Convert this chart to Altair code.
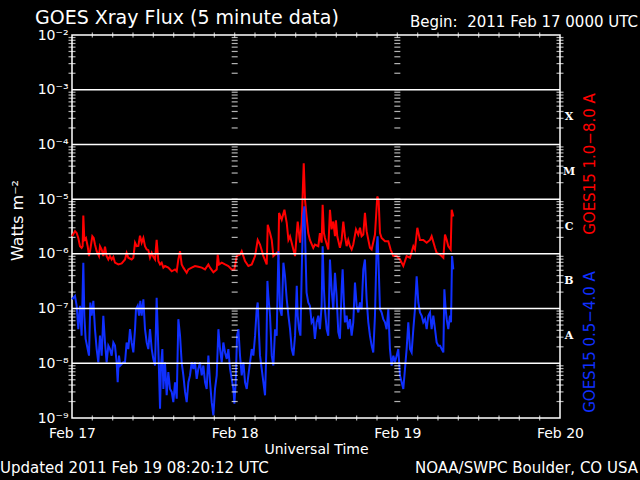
import altair as alt
import pandas as pd

# ---- data: hours since 2011 Feb 17 00:00 UTC, flux in W m^-2 ----
RED_HOURS = [0.0, 0.44, 0.69, 0.93, 1.18, 1.42, 1.57, 1.67, 1.82, 2.06, 2.31, 2.51, 2.70, 3.0, 3.2, 3.39, 3.64, 3.98, 4.13, 4.38,
             4.62, 4.87, 5.11, 5.36, 5.6, 5.85, 6.1, 6.34, 6.84, 7.33, 7.82, 8.06, 8.31, 8.8, 9.05, 9.3, 9.54, 9.79, 10.03, 10.28,
             10.53, 10.77, 11.02, 11.26, 11.51, 11.76, 12.0, 12.25, 12.49, 12.74, 12.99, 13.23, 13.48, 13.72, 14.21, 14.71, 15.2, 15.45, 15.69, 15.94,
             16.18, 16.43, 16.92, 17.17, 17.66, 18.15, 18.64, 19.14, 19.63, 20.12, 20.37, 20.86, 21.35, 21.5, 21.69, 22.09, 22.58, 23.07, 23.56, 23.96,
             24.3, 24.8, 25.04, 25.53, 26.02, 26.52, 27.01, 27.4, 27.74, 28.24, 28.73, 28.88, 29.22, 29.47, 29.71, 30.2, 30.45, 30.55, 30.94, 31.34,
             31.68, 31.93, 32.17, 32.66, 32.91, 33.16, 33.3, 33.65, 33.9, 34.09, 34.19, 34.38, 34.61, 34.86, 35.1, 35.6, 35.84, 36.34, 36.58, 36.83,
             36.98, 37.17, 37.32, 37.81, 38.06, 38.3, 38.55, 38.8, 38.94, 39.14, 39.53, 39.78, 40.03, 40.27, 40.52, 40.76, 41.01, 41.26, 41.5, 41.9,
             42.24, 42.49, 42.73, 42.98, 43.22, 43.47, 43.72, 43.96, 44.21, 44.7, 45.04, 45.24, 45.44, 45.68, 46.18, 46.67, 47.01, 47.41, 47.9, 48.39,
             48.64, 48.88, 49.37, 49.87, 50.36, 50.6, 50.95, 51.34, 51.83, 52.33, 52.82, 53.06, 53.56, 53.8, 54.3, 54.79, 55.03, 55.28, 55.52, 55.87,
             56.02, 56.26]
RED_FLUX = [2.1e-6, 2.6e-6, 2.4e-6, 1.95e-6, 1.38e-6, 1.29e-6, 1.38e-6, 5.0e-6, 1.8e-6, 1.95e-6, 1.38e-6, 9.1e-7, 1.2e-6, 2.1e-6, 1.95e-6, 1.48e-6, 1.12e-6, 9.1e-7, 1.38e-6, 1.2e-6,
            9.1e-7, 1.35e-6, 9.1e-7, 7.9e-7, 9.1e-7, 7.9e-7, 8.8e-7, 6.9e-7, 6.4e-7, 6.7e-7, 7.9e-7, 1.04e-6, 8.5e-7, 7.9e-7, 8.5e-7, 1.6e-6, 1.38e-6, 1.4e-6, 2.15e-6, 1.6e-6,
            1.95e-6, 1.38e-6, 1.2e-6, 1.17e-6, 8.5e-7, 1.04e-6, 8.8e-7, 7.9e-7, 1.8e-6, 7.4e-7, 6.4e-7, 6.9e-7, 5.6e-7, 6.0e-7, 5.6e-7, 4.8e-7, 5.2e-7, 4.8e-7, 7.9e-7, 1.12e-6,
            6.4e-7, 5.6e-7, 4.5e-7, 5.2e-7, 5.6e-7, 6.0e-7, 5.8e-7, 5.6e-7, 5.2e-7, 6.4e-7, 5.6e-7, 4.6e-7, 5.2e-7, 9.7e-7, 6.4e-7, 6.9e-7, 6.4e-7, 6.0e-7, 5.2e-7, 5.2e-7,
            9.1e-7, 9.7e-7, 1.12e-6, 7.4e-7, 6.0e-7, 6.4e-7, 9.1e-7, 1.8e-6, 1.48e-6, 9.1e-7, 6.4e-7, 3.4e-6, 2.4e-6, 1.8e-6, 9.1e-7, 1.04e-6, 9.1e-7, 5.6e-6, 4.2e-6, 6.4e-6,
            3.7e-6, 1.8e-6, 2.1e-6, 1.2e-6, 9.1e-7, 2.4e-6, 3.9e-6, 1.6e-6, 3.9e-6, 1.95e-5, 4.5e-5, 9.7e-6, 4.8e-6, 2.4e-6, 1.8e-6, 1.29e-6, 1.48e-6, 1.38e-6, 2.4e-6, 1.6e-6,
            7.9e-6, 2.4e-6, 1.95e-6, 1.2e-6, 6.4e-6, 2.8e-6, 3.9e-6, 2.1e-6, 4.1e-6, 2.1e-6, 1.29e-6, 1.8e-6, 3.9e-6, 2.1e-6, 1.38e-6, 1.8e-6, 1.38e-6, 1.2e-6, 1.48e-6, 2.8e-6,
            2.25e-6, 3.0e-6, 2.1e-6, 2.25e-6, 5.6e-6, 2.6e-6, 1.8e-6, 1.29e-6, 1.2e-6, 2.25e-6, 1.12e-5, 9.7e-6, 2.4e-6, 1.95e-6, 1.7e-6, 1.7e-6, 1.2e-6, 9.1e-7, 9.1e-7, 7.9e-7,
            6.9e-7, 6.0e-7, 9.1e-7, 8.5e-7, 1.38e-6, 1.2e-6, 3.0e-6, 1.8e-6, 1.8e-6, 1.6e-6, 1.8e-6, 2.1e-6, 1.29e-6, 1.04e-6, 9.7e-7, 8.5e-7, 2.25e-6, 1.8e-6, 1.38e-6, 1.2e-6,
            6.4e-6, 4.8e-6]

BLUE_HOURS = [0.0, 0.44, 0.69, 0.93, 1.18, 1.42, 1.67, 1.82, 2.01, 2.31, 2.51, 2.7, 2.9, 3.15, 3.39, 3.64, 3.88, 4.13, 4.38, 4.62,
              4.87, 5.11, 5.36, 5.6, 5.85, 6.1, 6.34, 6.59, 6.74, 6.93, 7.13, 7.57, 7.82, 8.06, 8.31, 8.56, 8.8, 9.05, 9.3, 9.44,
              9.69, 9.89, 10.08, 10.28, 10.53, 10.77, 11.02, 11.26, 11.51, 11.76, 12.0, 12.25, 12.49, 12.74, 12.99, 13.13, 13.33, 13.48, 13.72, 13.97,
              14.21, 14.46, 14.71, 14.95, 15.2, 15.45, 15.69, 15.94, 16.18, 16.43, 16.68, 16.92, 17.17, 17.41, 17.66, 17.91, 18.15, 18.4, 18.64, 18.89,
              19.14, 19.38, 19.63, 19.87, 20.12, 20.37, 20.61, 20.86, 21.1, 21.35, 21.6, 21.84, 22.09, 22.33, 22.58, 22.83, 23.07, 23.32, 23.56, 23.81,
              23.96, 24.15, 24.35, 24.55, 24.79, 25.04, 25.29, 25.53, 25.78, 26.02, 26.27, 26.52, 26.76, 27.01, 27.25, 27.4, 27.6, 27.74, 27.99, 28.24,
              28.48, 28.68, 28.83, 28.97, 29.22, 29.47, 29.71, 29.96, 30.2, 30.45, 30.7, 30.94, 31.19, 31.43, 31.68, 31.93, 32.17, 32.42, 32.66, 32.91,
              33.16, 33.3, 33.5, 33.7, 33.9, 34.09, 34.28, 34.48, 34.61, 34.86, 35.1, 35.35, 35.6, 35.84, 36.09, 36.34, 36.58, 36.83, 36.98, 37.17,
              37.32, 37.57, 37.81, 38.06, 38.3, 38.55, 38.8, 39.04, 39.29, 39.53, 39.78, 39.93, 40.12, 40.27, 40.52, 40.76, 41.01, 41.26, 41.5, 41.75,
              42.0, 42.24, 42.49, 42.73, 42.98, 43.22, 43.47, 43.72, 43.96, 44.21, 44.45, 44.7, 44.95, 45.09, 45.29, 45.44, 45.68, 45.93, 46.18, 46.42,
              46.67, 46.91, 47.16, 47.41, 47.65, 47.9, 48.14, 48.39, 48.64, 48.88, 49.13, 49.37, 49.62, 49.87, 50.11, 50.36, 50.6, 50.85, 51.1, 51.34,
              51.59, 51.83, 52.08, 52.33, 52.57, 52.82, 53.06, 53.31, 53.56, 53.8, 54.05, 54.3, 54.54, 54.79, 54.94, 55.13, 55.28, 55.52, 55.77, 55.92,
              56.07, 56.26]
BLUE_FLUX = [1.48e-7, 1.7e-7, 1.12e-7, 4.2e-8, 1.12e-7, 3.2e-8, 6.9e-7, 7.4e-8, 2.8e-8, 1.82e-8, 1.38e-8, 1.29e-7, 7.4e-8, 1.38e-7, 4.2e-8, 1.82e-8, 1.04e-8, 3.2e-8, 1.38e-8, 7.4e-8,
             2.4e-8, 1.04e-8, 2.1e-8, 1.82e-8, 1.38e-8, 2.4e-8, 2.1e-8, 1.04e-8, 4.5e-9, 1.38e-8, 9.1e-9, 1.04e-8, 1.04e-8, 2.4e-8, 1.82e-8, 4.2e-8, 2.4e-8, 1.58e-8, 4.2e-8, 9.7e-8,
             1.12e-7, 7.4e-8, 1.38e-7, 7.4e-8, 1.48e-7, 4.2e-8, 2.4e-8, 1.82e-8, 4.2e-8, 1.82e-8, 1.2e-8, 9.1e-9, 1.58e-7, 1.82e-8, 1.48e-9, 9.1e-9, 1.82e-8, 3.4e-9, 1.04e-8, 2.6e-9,
             6.9e-9, 3.4e-9, 3.0e-9, 1.95e-9, 4.5e-9, 2.25e-9, 6.4e-8, 3.2e-8, 1.04e-8, 6.0e-9, 3.0e-9, 1.95e-9, 4.5e-9, 6.0e-9, 1.04e-8, 7.9e-9, 1.04e-8, 5.2e-9, 7.9e-9, 1.04e-8,
             6.0e-9, 9.1e-9, 4.5e-9, 3.4e-9, 1.38e-8, 4.5e-9, 1.95e-9, 1.12e-9, 3.4e-9, 6.0e-9, 4.2e-8, 1.82e-8, 1.04e-8, 2.4e-8, 1.58e-8, 1.2e-8, 1.82e-8, 7.9e-9, 5.2e-9, 3.4e-9,
             1.82e-9, 4.5e-9, 3.2e-8, 4.2e-8, 1.38e-8, 6.0e-9, 1.04e-8, 4.5e-9, 3.4e-9, 6.0e-9, 1.04e-8, 1.82e-8, 1.38e-8, 3.2e-8, 9.7e-8, 1.29e-7, 3.2e-8, 1.38e-8, 7.9e-9, 4.5e-9,
             2.6e-9, 1.82e-8, 3.2e-7, 1.7e-7, 7.4e-8, 1.38e-8, 9.1e-9, 4.2e-8, 3.2e-8, 1.12e-6, 9.7e-8, 7.4e-8, 6.9e-7, 3.9e-7, 1.48e-7, 7.4e-8, 4.2e-8, 1.82e-8, 1.38e-8, 3.2e-8,
             2.6e-7, 7.4e-8, 4.2e-8, 3.2e-8, 5.2e-7, 4.8e-6, 7.4e-6, 7.9e-7, 1.95e-7, 1.29e-7, 1.12e-7, 5.6e-8, 6.4e-8, 2.8e-8, 5.6e-8, 7.4e-8, 4.2e-8, 1.12e-7, 1.38e-6, 2.25e-7,
             9.7e-8, 4.2e-8, 3.2e-8, 7.9e-7, 2.25e-7, 9.7e-8, 4.5e-7, 1.7e-7, 3.7e-8, 2.8e-8, 2.25e-7, 5.2e-7, 1.29e-7, 5.6e-8, 7.4e-8, 4.2e-8, 6.4e-8, 3.2e-8, 5.6e-8, 3.0e-7,
             1.12e-7, 8.5e-8, 1.29e-7, 9.7e-8, 5.2e-7, 7.9e-7, 1.48e-7, 5.6e-8, 3.2e-8, 2.1e-8, 1.58e-8, 7.4e-8, 1.38e-6, 2.1e-6, 3.9e-7, 9.7e-8, 8.5e-8, 6.4e-8, 5.6e-8, 4.2e-8,
             9.7e-8, 1.82e-8, 9.1e-9, 1.38e-8, 1.04e-8, 1.38e-8, 1.82e-8, 6.0e-9, 4.5e-9, 3.4e-9, 7.9e-9, 1.82e-8, 5.6e-8, 1.82e-8, 1.58e-8, 4.2e-8, 9.7e-8, 3.9e-7, 1.29e-7, 8.5e-8,
             7.4e-8, 5.6e-8, 6.4e-8, 4.2e-8, 7.4e-8, 8.5e-8, 4.2e-8, 7.4e-8, 4.2e-8, 2.4e-8, 2.1e-8, 2.1e-8, 1.82e-8, 1.58e-8, 2.25e-7, 9.7e-8, 6.4e-8, 4.2e-8, 7.4e-8, 5.6e-8,
             9.1e-7, 5.2e-7]

DAY_HOURS = [0, 24, 48, 72]
DAY_LABELS = ["Feb 17", "Feb 18", "Feb 19", "Feb 20"]
DIVIDER_HOURS = [24, 48]
MINOR_HOURS = list(range(3, 72, 3))
DECADES = [1e-9, 1e-8, 1e-7, 1e-6, 1e-5, 1e-4, 1e-3, 1e-2]
DECADE_LABELS = ["10\u207b\u2079", "10\u207b\u2078", "10\u207b\u2077", "10\u207b\u2076",
                 "10\u207b\u2075", "10\u207b\u2074", "10\u207b\u00b3", "10\u207b\u00b2"]
GRID_DECADES = [1e-8, 1e-7, 1e-6, 1e-5, 1e-4, 1e-3]
MINOR_FLUX = [k * d for d in DECADES[:-1] for k in range(2, 10)]
CLASS_LETTERS = ["X", "M", "C", "B", "A"]
CLASS_LEVELS = [1e-4, 1e-5, 1e-6, 1e-7, 1e-8]

W, H = 488, 383
FONT = "DejaVu Sans"
RED = "#ff0000"
BLUE = "#1030ff"

xs = alt.Scale(domain=[0, 72], nice=False, zero=False)
ys = alt.Scale(type="log", domain=[1e-9, 1e-2], nice=False)

red_df = pd.DataFrame({"hour": RED_HOURS, "flux": RED_FLUX})
blue_df = pd.DataFrame({"hour": BLUE_HOURS, "flux": BLUE_FLUX})

x_label_expr = "[" + ",".join("'%s'" % s for s in DAY_LABELS) + "][round(datum.value/24)]"
y_label_expr = "[" + ",".join("'%s'" % s for s in DECADE_LABELS) + "][round(log(datum.value)/LN10)+9]"

x_axis = alt.Axis(values=DAY_HOURS, labelExpr=x_label_expr, domain=False, ticks=False, grid=False,
                  labelColor="white", labelFont=FONT, labelFontSize=14, labelPadding=15, labelBaseline="middle",
                  labelFlush=False, labelOverlap=False, labelBound=False,
                  title="Universal Time", titleColor="white", titleFont=FONT, titleFontSize=14,
                  titleFontWeight="normal", titleX=W / 2, titleY=31, titleBaseline="middle")
y_axis = alt.Axis(values=DECADES, labelExpr=y_label_expr, domain=False, ticks=False, grid=False,
                  labelColor="white", labelFont=FONT, labelFontSize=14, labelPadding=4,
                  title="Watts m\u207b\u00b2", titleColor="white", titleFont=FONT, titleFontSize=16,
                  titleFontWeight="normal", titleX=-55, titleY=185, titleAngle=270,
                  titleAlign="center", titleBaseline="middle")

base_red = alt.Chart(red_df).mark_line(color=RED, strokeWidth=2).encode(
    x=alt.X("hour:Q", scale=xs, axis=x_axis),
    y=alt.Y("flux:Q", scale=ys, axis=y_axis),
)
blue_line = alt.Chart(blue_df).mark_line(color=BLUE, strokeWidth=2).encode(
    x=alt.X("hour:Q", scale=xs), y=alt.Y("flux:Q", scale=ys))

grid = alt.Chart(pd.DataFrame({"v": GRID_DECADES})).mark_rule(color="white", strokeWidth=1.5).encode(
    y=alt.Y("v:Q", scale=ys), x=alt.value(0), x2=alt.value(W))

# minor log ticks on left / right frame and at the day dividers
edge_df = pd.DataFrame([{"hour": h, "v": v, "side": s}
                        for h, s in [(0, 1), (72, -1)] for v in MINOR_FLUX])
edge_ticks = alt.Chart(edge_df).transform_calculate(off="datum.side * 3.5").mark_tick(
    color="white", orient="horizontal", size=7, thickness=1.2).encode(
    x=alt.X("hour:Q", scale=xs), y=alt.Y("v:Q", scale=ys), xOffset=alt.XOffset("off:Q", scale=None))

div_df = pd.DataFrame([{"hour": h, "v": v} for h in DIVIDER_HOURS for v in MINOR_FLUX + GRID_DECADES])
div_ticks = alt.Chart(div_df).mark_tick(color="white", orient="horizontal", size=6, thickness=1.2).encode(
    x=alt.X("hour:Q", scale=xs), y=alt.Y("v:Q", scale=ys))

# 3-hourly ticks on bottom and top frame
hour_df = pd.DataFrame([{"hour": h, "v": v, "side": s}
                        for v, s in [(1e-9, -1), (1e-2, 1)] for h in MINOR_HOURS])
hour_ticks = alt.Chart(hour_df).transform_calculate(off="datum.side * 2.5").mark_tick(
    color="white", orient="vertical", size=5, thickness=1.2).encode(
    x=alt.X("hour:Q", scale=xs), y=alt.Y("v:Q", scale=ys), yOffset=alt.YOffset("off:Q", scale=None))

class_df = pd.DataFrame({"letter": CLASS_LETTERS, "level": CLASS_LEVELS})
class_text = alt.Chart(class_df).transform_calculate(mid="datum.level * sqrt(10)").mark_text(
    color="white", font="DejaVu Serif", fontWeight="bold", fontSize=11, align="center", baseline="middle").encode(
    y=alt.Y("mid:Q", scale=ys), x=alt.value(W + 9), text="letter:N")


def label(txt, x, y, size, color="white", align="left", angle=0):
    return alt.Chart(pd.DataFrame({"t": [txt]})).mark_text(
        color=color, font=FONT, fontSize=size, align=align, baseline="middle", angle=angle).encode(
        text="t:N", x=alt.value(x), y=alt.value(y))


texts = [
    label("GOES Xray Flux (5 minute data)", -37, -17, 19),
    label("Begin:\u00a0\u00a02011 Feb 17 0000 UTC", 566, -13, 15, align="right"),
    label("Updated 2011 Feb 19 08:20:12 UTC", -72, 433, 15),
    label("NOAA/SWPC Boulder, CO USA", 566, 433, 15, align="right"),
    label("GOES15 1.0\u22128.0 A", 518, 129, 15, color=RED, align="center", angle=270),
    label("GOES15 0.5\u22124.0 A", 518, 307, 15, color=BLUE, align="center", angle=270),
]

chart = alt.layer(base_red, blue_line, grid, edge_ticks, div_ticks, hour_ticks,
                  class_text, *texts).properties(
    width=W, height=H,
    autosize=alt.AutoSizeParams(type="none"),
    padding={"left": 72, "top": 35, "right": 80, "bottom": 62},
).configure(background="black").configure_view(stroke="white", strokeWidth=1.5)

chart.save("out.html", embed_options={"renderer": "svg", "actions": False})
